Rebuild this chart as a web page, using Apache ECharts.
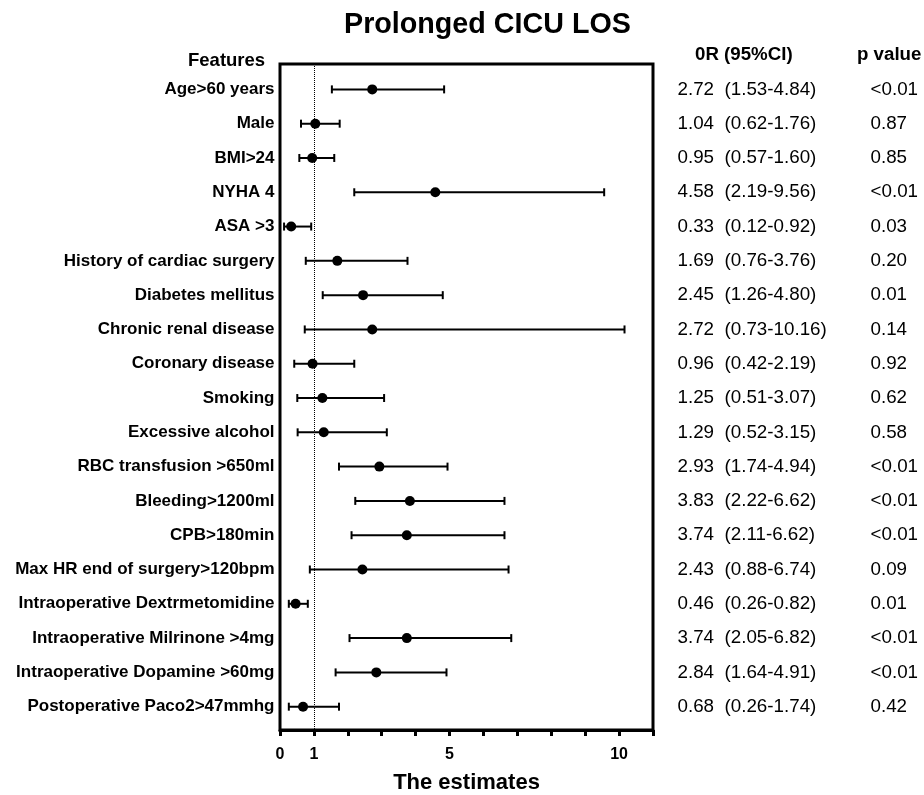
<!DOCTYPE html>
<html>
<head>
<meta charset="utf-8">
<title>Prolonged CICU LOS</title>
<script src="https://cdn.jsdelivr.net/npm/echarts@6/dist/echarts.min.js"></script>
<style>
  html, body { margin: 0; padding: 0; background: #fff; }
  #forest { width: 924px; height: 795px; }
</style>
</head>
<body>
<div id="forest"></div>
<script>
  // rows, top to bottom
  var features = [
    'Age>60 years', 'Male', 'BMI>24', 'NYHA 4', 'ASA >3',
    'History of cardiac surgery', 'Diabetes mellitus', 'Chronic renal disease',
    'Coronary disease', 'Smoking', 'Excessive alcohol', 'RBC transfusion >650ml',
    'Bleeding>1200ml', 'CPB>180min', 'Max HR end of surgery>120bpm',
    'Intraoperative Dextrmetomidine', 'Intraoperative Milrinone >4mg',
    'Intraoperative Dopamine >60mg', 'Postoperative Paco2>47mmhg'
  ];
  var oddsRatio = [2.72, 1.04, 0.95, 4.58, 0.33, 1.69, 2.45, 2.72, 0.96, 1.25, 1.29, 2.93, 3.83, 3.74, 2.43, 0.46, 3.74, 2.84, 0.68];
  var ciLow     = [1.53, 0.62, 0.57, 2.19, 0.12, 0.76, 1.26, 0.73, 0.42, 0.51, 0.52, 1.74, 2.22, 2.11, 0.88, 0.26, 2.05, 1.64, 0.26];
  var ciHigh    = [4.84, 1.76, 1.60, 9.56, 0.92, 3.76, 4.80, 10.16, 2.19, 3.07, 3.15, 4.94, 6.62, 6.62, 6.74, 0.82, 6.82, 4.91, 1.74];
  var pValue    = ['<0.01', '0.87', '0.85', '<0.01', '0.03', '0.20', '0.01', '0.14', '0.92', '0.62', '0.58', '<0.01', '<0.01', '<0.01', '0.09', '0.01', '<0.01', '<0.01', '0.42'];
  var xTickLabels = [0, 1, 5, 10];

  var FONT = '"Liberation Sans", Arial, Helvetica, sans-serif';

  function fmt(v) { return v.toFixed(2); }

  var pointData = [], barData = [], labelData = [], orData = [], pData = [];
  for (var i = 0; i < features.length; i++) {
    var row = i + 1;
    pointData.push([oddsRatio[i], row]);
    barData.push([ciLow[i], ciHigh[i], row]);
    labelData.push({ value: [0, row], name: features[i] });
    orData.push({ value: [0, row], name: fmt(oddsRatio[i]) + '  (' + fmt(ciLow[i]) + '-' + fmt(ciHigh[i]) + ')' });
    pData.push({ value: [1, row], name: pValue[i] });
  }

  var myChart = echarts.init(document.getElementById('forest'));

  var yCommon = { type: 'value', inverse: true, min: 0.26, max: 19.68, show: false };
  var hidden = { color: 'rgba(0,0,0,0)', opacity: 1 };

  var option = {
    animation: false,
    backgroundColor: '#fff',
    textStyle: { fontFamily: FONT, color: '#000' },
    title: {
      text: 'Prolonged CICU LOS',
      left: 339,
      top: 6,
      textStyle: { fontSize: 28.7, fontWeight: 'bold', color: '#000', fontFamily: FONT }
    },
    graphic: [
      { type: 'text', left: 188, top: 51, style: { text: 'Features', font: 'bold 18.5px ' + FONT, fill: '#000' } },
      { type: 'text', left: 695, top: 45, style: { text: '0R (95%CI)', font: 'bold 18.7px ' + FONT, fill: '#000' } },
      { type: 'text', left: 857, top: 45, style: { text: 'p value', font: 'bold 18.7px ' + FONT, fill: '#000' } }
    ],
    grid: [
      { left: 280, right: 271, top: 64, bottom: 65, outerBoundsMode: 'none', containLabel: false, show: true, borderColor: '#000', borderWidth: 3, backgroundColor: 'transparent' },
      { left: 677, right: 54, top: 64, bottom: 65, outerBoundsMode: 'none', containLabel: false }
    ],
    xAxis: [
      {
        gridIndex: 0,
        type: 'value',
        min: 0,
        max: 11,
        interval: 1,
        name: 'The estimates',
        nameLocation: 'middle',
        nameGap: 42,
        nameTextStyle: { fontSize: 22, fontWeight: 'bold', color: '#000', fontFamily: FONT },
        axisLine: { show: true, lineStyle: { color: '#000', width: 3 } },
        axisTick: { show: true, length: 6, lineStyle: { color: '#000', width: 3 } },
        axisLabel: {
          margin: 17,
          fontSize: 16,
          fontWeight: 'bold',
          color: '#000',
          fontFamily: FONT,
          formatter: function (v) { return xTickLabels.indexOf(v) >= 0 ? String(v) : ''; }
        },
        splitLine: { show: false }
      },
      { gridIndex: 1, type: 'value', min: 0, max: 1, show: false }
    ],
    yAxis: [
      Object.assign({ gridIndex: 0 }, yCommon),
      Object.assign({ gridIndex: 1 }, yCommon)
    ],
    series: [
      {
        // error bars with end caps
        type: 'custom',
        xAxisIndex: 0,
        yAxisIndex: 0,
        data: barData,
        encode: { x: [0, 1], y: 2 },
        renderItem: function (params, api) {
          var a = api.coord([api.value(0), api.value(2)]);
          var b = api.coord([api.value(1), api.value(2)]);
          var h = 4;
          var st = { stroke: '#000', lineWidth: 2 };
          return {
            type: 'group',
            children: [
              { type: 'line', shape: { x1: a[0], y1: a[1], x2: b[0], y2: b[1] }, style: st },
              { type: 'line', shape: { x1: a[0], y1: a[1] - h, x2: a[0], y2: a[1] + h }, style: st },
              { type: 'line', shape: { x1: b[0], y1: b[1] - h, x2: b[0], y2: b[1] + h }, style: st }
            ]
          };
        },
        z: 3
      },
      {
        type: 'scatter',
        xAxisIndex: 0,
        yAxisIndex: 0,
        data: pointData,
        symbol: 'circle',
        symbolSize: 10,
        itemStyle: { color: '#000', opacity: 1 },
        z: 4,
        markLine: {
          silent: true,
          symbol: 'none',
          label: { show: false },
          lineStyle: { color: '#000', type: 'dotted', width: 1, opacity: 1 },
          data: [{ xAxis: 1 }]
        }
      },
      {
        // feature names to the left of the plot box
        type: 'scatter',
        xAxisIndex: 0,
        yAxisIndex: 0,
        clip: false,
        data: labelData,
        symbolSize: 1,
        itemStyle: hidden,
        label: {
          show: true,
          position: 'left',
          distance: 5,
          formatter: '{b}',
          color: '#000',
          fontSize: 17,
          fontWeight: 'bold',
          fontFamily: FONT
        }
      },
      {
        type: 'scatter',
        xAxisIndex: 1,
        yAxisIndex: 1,
        clip: false,
        data: orData,
        symbolSize: 1,
        itemStyle: hidden,
        label: { show: true, position: 'right', distance: 0, formatter: '{b}', color: '#000', fontSize: 18.8, fontFamily: FONT }
      },
      {
        type: 'scatter',
        xAxisIndex: 1,
        yAxisIndex: 1,
        clip: false,
        data: pData,
        symbolSize: 1,
        itemStyle: hidden,
        label: { show: true, position: 'right', distance: 0, formatter: '{b}', color: '#000', fontSize: 18.8, fontFamily: FONT }
      }
    ]
  };

  myChart.setOption(option);
</script>
</body>
</html>
